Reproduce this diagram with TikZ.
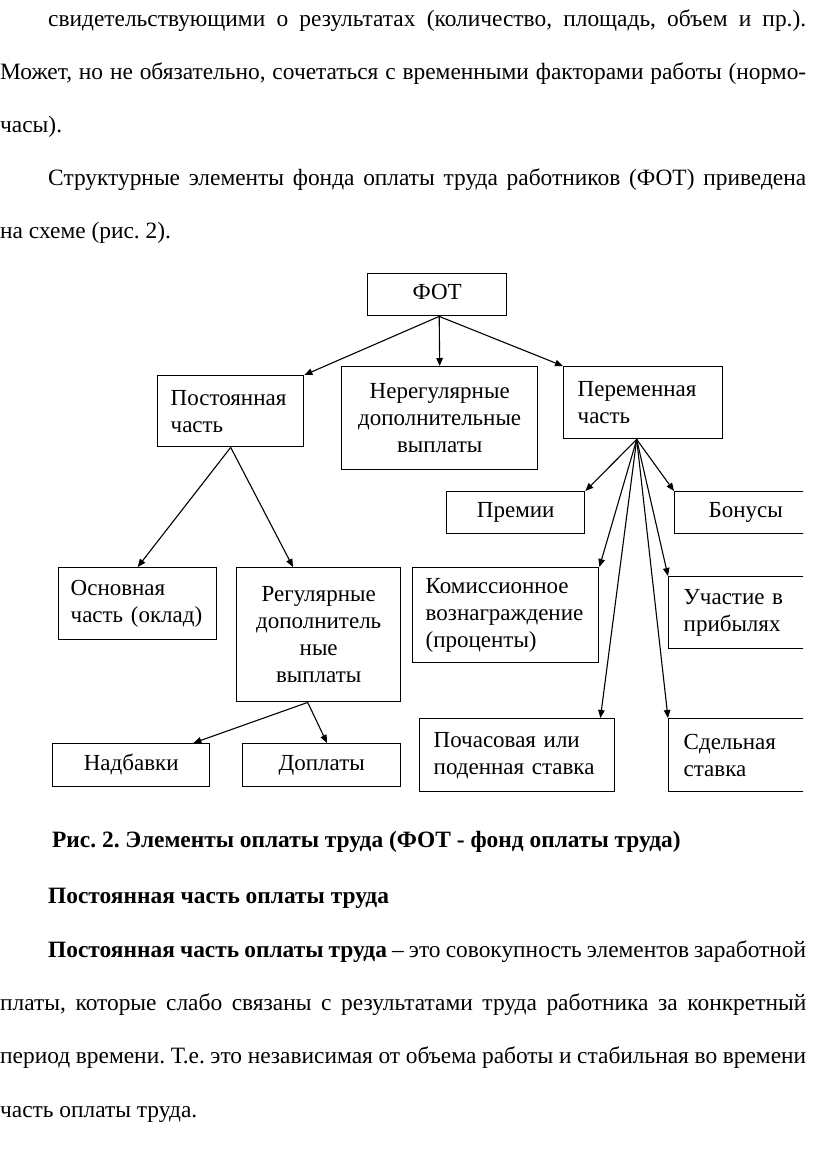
\documentclass[tikz,border=0pt]{standalone}
\usepackage{fontspec}
\setmainfont{Liberation Serif}
\usetikzlibrary{arrows.meta}
\frenchspacing
\begin{document}
\begin{tikzpicture}[x=1pt,y=-1pt,
  btext/.style={anchor=base west, inner sep=0pt, font=\fontsize{23.4}{27}\selectfont},
  box/.style={draw, line width=1.4pt, anchor=north west, inner xsep=13pt, inner ysep=0pt,
    font=\fontsize{23}{27}\selectfont, align=left},
  cbox/.style={box, align=center},
  sbox/.style={cbox, text height=15pt, text depth=5pt},
  arr/.style={-{Triangle[length=8pt,width=6.5pt]}, line width=1.1pt}]
\useasboundingbox (0,0) rectangle (816,1152);
\fill[white] (0,0) rectangle (816,1152);
% top text
\node[btext] (t1) at (48,26) {\makebox[758pt][s]{свидетельствующими о результатах (количество, площадь, объем и пр.).}};
\node[btext] (t2) at (0,79) {\makebox[806pt][s]{Может, но не обязательно, сочетаться с временными факторами работы (нормо-}};
\node[btext] (t3) at (0,132) {часы).};
\node[btext] (t4) at (48,185) {\makebox[758pt][s]{Структурные элементы фонда оплаты труда работников (ФОТ) приведена}};
\node[btext] (t5) at (0,238) {на схеме (рис. 2).};
% boxes
\node[sbox, minimum width=139pt, minimum height=42pt] (fot) at (367,273) {ФОТ};
\node[box, text width=120pt, minimum height=71pt] (post) at (157,375) {Постоянная\\часть};
\node[cbox, minimum width=196pt, minimum height=103pt] (nereg) at (341,366) {Нерегулярные\\дополнительные\\выплаты};
\node[box, inner xsep=14pt, text width=131pt, minimum height=72pt] (per) at (563,366) {Переменная\\часть};
\node[box, inner xsep=12pt, text width=134pt, minimum height=72pt] (osn) at (58,567) {Основная\\часть~(оклад)};
\node[cbox, minimum width=164pt, minimum height=134pt] (reg) at (236,567) {Регулярные\\дополнитель\\ные\\выплаты};
\node[sbox, minimum width=157pt, minimum height=43pt] (nad) at (52,743) {Надбавки};
\node[sbox, minimum width=158pt, minimum height=43pt] (dop) at (242,743) {Доплаты};
\node[sbox, minimum width=138pt, minimum height=42pt] (prem) at (446,491) {Премии};
\node[box, text width=160pt, minimum height=95pt] (kom) at (412,567) {Комиссионное\\вознаграждение\\(проценты)};
\node[box, inner xsep=14pt, text width=167pt, minimum height=73pt] (poch) at (419,718) {Почасовая~или\\поденная~ставка};
\begin{scope}
\clip (0,0) rectangle (803,1152);
\node[sbox, minimum width=142pt, minimum height=42pt] (bon) at (674,491) {Бонусы};
\node[box, inner xsep=15pt, text width=120pt, minimum height=72pt] (uch) at (668,576) {Участие~в\\прибылях};
\node[box, inner xsep=15pt, text width=120pt, minimum height=73pt] (sdel) at (668,718) {Сдельная\\ставка};
\end{scope}
% connectors
\coordinate (fo) at ([xshift=2pt]fot.south);
\draw[arr] (fo) -- (post.north east);
\draw[arr] (fo) -- (nereg.north);
\draw[arr] (fo) -- (per.north west);
\draw[arr] (post.south) -- (osn.north);
\draw[arr] (post.south) -- ([xshift=57pt]reg.north west);
\coordinate (ro) at ([xshift=-11pt]reg.south);
\draw[arr] (ro) -- ([xshift=-17pt]nad.north east);
\draw[arr] (ro) -- ([xshift=85pt]dop.north west);
\coordinate (pf) at ([xshift=-6.5pt]per.south);
\draw[arr] (pf) -- (prem.north east);
\draw[arr] (pf) -- (bon.north west);
\draw[arr] (pf) -- (kom.north east);
\draw[arr] (pf) -- (uch.north west);
\draw[arr] (pf) -- ([xshift=-15pt]poch.north east);
\draw[arr] (pf) -- (sdel.north west);
% bottom text
\node[btext, font=\fontsize{23.4}{27}\selectfont\bfseries] (cap) at (52,847) {Рис. 2. Элементы оплаты труда (ФОТ - фонд оплаты труда)};
\node[btext, font=\fontsize{23.4}{27}\selectfont\bfseries] (head) at (48,903) {Постоянная часть оплаты труда};
\node[btext] (p1) at (48,957) {\makebox[758pt][s]{\textbf{Постоянная часть оплаты труда} – это совокупность элементов заработной}};
\node[btext] (p2) at (0,1010) {\makebox[806pt][s]{платы, которые слабо связаны с результатами труда работника за конкретный}};
\node[btext] (p3) at (0,1063) {\makebox[806pt][s]{период времени. Т.е. это независимая от объема работы и стабильная во времени}};
\node[btext] (p4) at (0,1117) {часть оплаты труда.};
\end{tikzpicture}
\end{document}
